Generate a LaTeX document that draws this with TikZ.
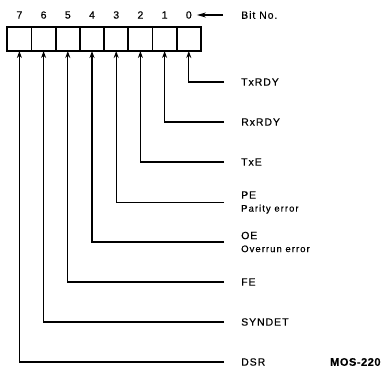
\documentclass[tikz,border=0pt]{standalone}
\usepackage{fontspec}
\setmainfont{Liberation Sans}
\newfontfamily\lblfont[LetterSpace=9,FakeBold=0.4]{Liberation Sans}
\newfontfamily\smallfont[LetterSpace=11,FakeBold=0.3]{Liberation Sans}
\newfontfamily\tagfont[LetterSpace=5,FakeBold=0.5]{Liberation Sans Bold}
\usetikzlibrary{arrows.meta}
\begin{document}
\begin{tikzpicture}[x=1pt,y=-1pt,
  bitbox/.style={draw, line width=1.8pt, minimum width=24.2pt, minimum height=24pt, inner sep=0pt, outer sep=0pt},
  digit/.style={inner sep=0pt, font=\lblfont\fontsize{10.5}{12}\selectfont},
  lbl/.style={anchor=west, inner sep=0pt, align=left, font=\lblfont\fontsize{10.5}{13}\selectfont},
  wire/.style={line width=1.2pt, -{Stealth[length=7pt,width=5pt]}}]
\useasboundingbox (0,0) rectangle (388,369);
\foreach \b in {0,...,7} {
  \node[bitbox] (b\b) at ({19.4+24.2*(7-\b)},39) {};
  \node[digit] (n\b) at ({19.4+24.2*(7-\b)},15) {\b};
}
\node[lbl] (bitno) at (241,15) {Bit No.};
\node[lbl] (t0) at (241,82) {TxRDY};
\node[lbl] (t1) at (241,122) {RxRDY};
\node[lbl] (t2) at (241,162) {TxE};
\node[lbl] (t3) at (241,202.5) {PE\\{\smallfont\fontsize{9.5}{11}\selectfont Parity error}};
\node[lbl] (t4) at (241,242) {OE\\{\smallfont\fontsize{9.5}{11}\selectfont Overrun error}};
\node[lbl] (t5) at (241,282) {FE};
\node[lbl] (t6) at (241,322) {SYNDET};
\node[lbl] (t7) at (241,362) {DSR};
\node[anchor=west, inner sep=0pt, font=\tagfont\fontsize{11}{13}\selectfont] (mos) at (330,362) {MOS-220};
\draw[wire, -{Stealth[length=9pt,width=5pt]}, shorten >=5pt] (bitno.west) ++(-18,0) -- (n0.east);
\foreach \b in {0,...,7} {
  \draw[wire] (t\b.west) ++(-17,0) -| (b\b.south);
}
\end{tikzpicture}
\end{document}
